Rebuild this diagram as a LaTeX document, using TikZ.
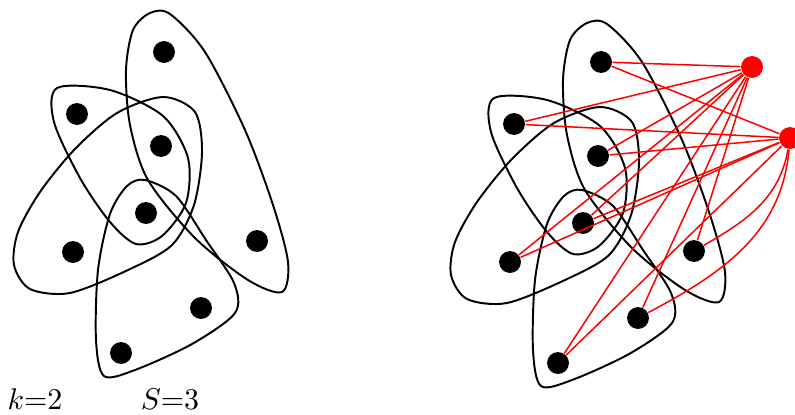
\documentclass[tikz,border=0pt]{standalone}
\begin{document}
\begin{tikzpicture}[x=0.3333pt,y=-0.3333pt,
  dot/.style={circle,fill=black,inner sep=0pt,minimum size=7.3pt},
  rdot/.style={circle,fill=red,inner sep=0pt,minimum size=7.3pt},
  hedge/.style={draw=black,line width=0.65pt},
  redge/.style={draw=red,line width=0.5pt},
  lab/.style={inner sep=0pt,anchor=base}]
\useasboundingbox (0,0) rectangle (795,414);
\newcommand{\hypfig}[1]{%
  \draw[hedge] plot[smooth cycle] coordinates {(133,30) (150,13) (170,14) (205,52) (245,130) (273,205) (288,262) (282,292) (248,280) (195,238) (148,180) (130,125) (126,70)};
  \draw[hedge] plot[smooth cycle] coordinates {(57,88) (110,90) (163,116) (188,158) (186,203) (162,236) (136,244) (110,222) (80,178) (54,122)};
  \draw[hedge] plot[smooth cycle] coordinates {(163,97) (195,112) (202,152) (194,205) (172,245) (128,270) (70,293) (30,289) (14,265) (18,232) (40,192) (75,149) (117,113)};
  \draw[hedge] plot[smooth cycle] coordinates {(145,180) (176,196) (206,240) (234,283) (235,313) (192,344) (135,370) (104,376) (96,340) (98,270) (110,214) (127,186)};
  \node[dot] (#1a) at (164,52) {};
  \node[dot] (#1b) at (77,114) {};
  \node[dot] (#1c) at (161,146) {};
  \node[dot] (#1d) at (146,213) {};
  \node[dot] (#1e) at (73,252) {};
  \node[dot] (#1f) at (257,241) {};
  \node[dot] (#1g) at (201,308) {};
  \node[dot] (#1h) at (121,353) {};
}
\begin{scope}
  \hypfig{l}
\end{scope}
\begin{scope}[shift={(437,10)}]
  \hypfig{r}
\end{scope}
\node[rdot] (p) at (752,67) {};
\node[rdot] (q) at (790,138) {};
\foreach \v in {a,b,c,d,e,f,g,h}{\draw[redge] (p) -- (r\v);}
\foreach \v in {a,b,c,d,e,h}{\draw[redge] (q) -- (r\v);}
\draw[redge] (q) to[out=-100,in=30] (rf);
\draw[redge] (q) to[out=-95,in=28] (rg);
\node[lab] (k) at (35,409) {\(k\)=2};
\node[lab] (s) at (170,409) {\(S\)=3};
\end{tikzpicture}
\end{document}
